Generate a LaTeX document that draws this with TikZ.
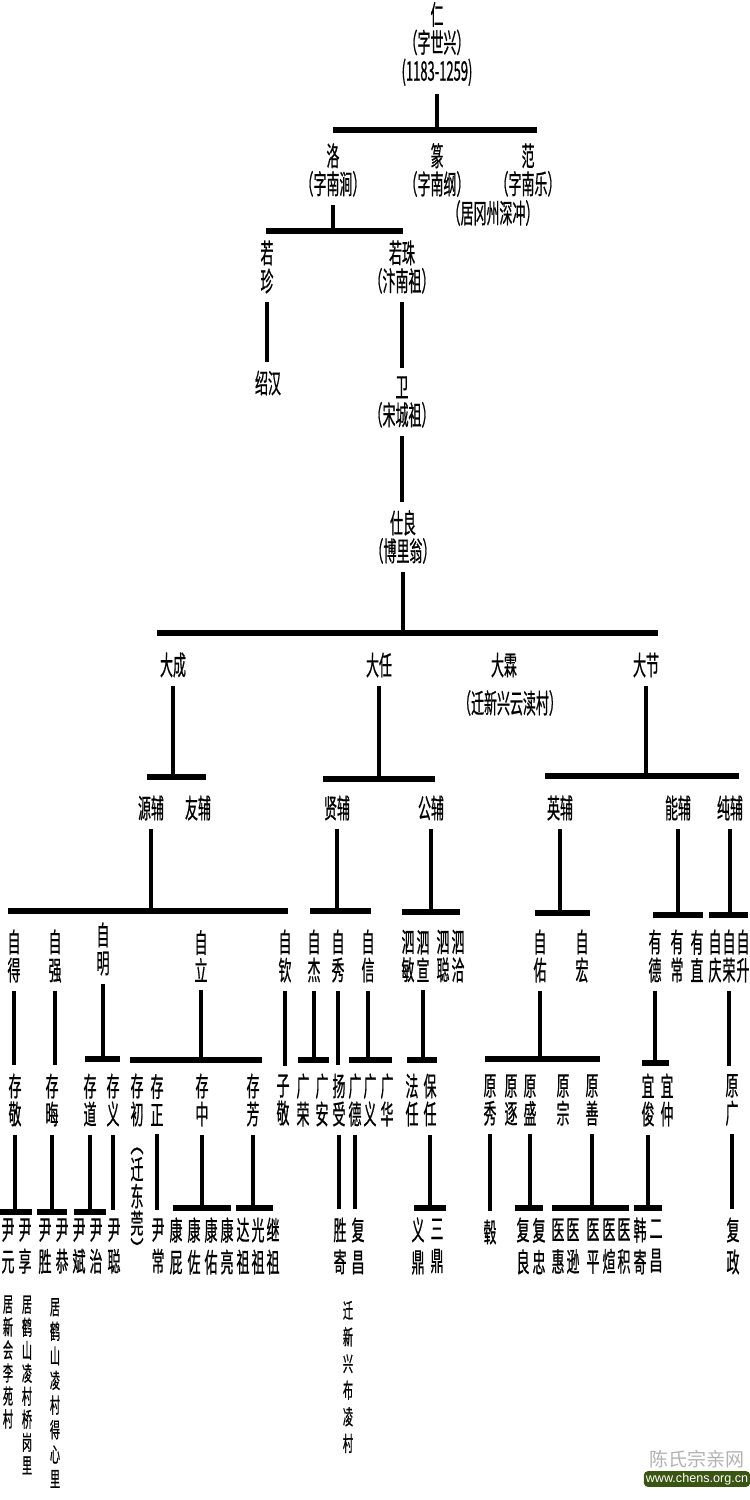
\documentclass[tikz,border=0pt]{standalone}
\usepackage{fontspec}
\newfontfamily\cjk{Noto Sans CJK SC}[FakeStretch=0.48,FakeBold=0.6]
\newfontfamily\wmfont{Noto Sans CJK SC}
\newfontfamily\urlfont{Liberation Sans}
\definecolor{wmgreen}{RGB}{58,84,18}
\tikzset{
    gname/.style={font=\cjk\fontsize{13.5}{14}\selectfont,inner sep=1pt,align=center},
    gnamelow/.style={gname,font=\cjk\fontsize{13.5}{16}\selectfont},
    resid/.style={gname,inner sep=0pt,font=\cjk\fontsize{10.5}{#1}\selectfont},
    bar/.style={line width=2.6pt},
    stem/.style={line width=1.8pt,shorten <=3pt},
}

\begin{document}
\begin{tikzpicture}[x=0.5pt,y=-0.5pt]
        \useasboundingbox (0,0) rectangle (750,1500);
        % first generations
        \node[gname] (ren) at (437,44) {仁\\（字世兴）\\(1183-1259)};
        \node[gname] (luo) at (333,170) {洛\\（字南涧）};
        \node[gname] (zhuan) at (437,170) {篆\\（字南纲）};
        \node[gname] (fan) at (528,170) {范\\（字南乐）};
        \node[gname] (fannote) at (493,213) {（居冈州深冲）};
        \node[gname] (ruozhen) at (267,267) {若\\珍};
        \node[gname] (ruozhu) at (402,267) {若珠\\（汴南祖）};
        \node[gname] (shaohan) at (268,383) {绍汉};
        \node[gname] (wei) at (402,402) {卫\\（宋城祖）};
        \node[gname] (shiliang) at (403,537) {仕良\\（博里翁）};
        % da and fu
        \node[gname] (dacheng) at (173,665) {大成};
        \node[gname] (daren) at (379,665) {大任};
        \node[gname] (dalin) at (504,665) {大霖};
        \node[gname] (dalinnote) at (510,703) {（迁新兴云渎村）};
        \node[gname] (dajie) at (646,665) {大节};
        \foreach \nm/\xx/\txt in {yuanfu/151/源辅, youfu/198/友辅, xianfu/337/贤辅, gongfu/431/公辅,
            yingfu/560/英辅, nengfu/678/能辅, chunfu/730/纯辅}
            \node[gname] (\nm) at (\xx,808) {\txt};
        % zi generation
        \foreach \nm/\xx/\txt in {zide/14/自\\得, ziqiang/55/自\\强, zili/201/自\\立, ziqin/285/自\\钦,
            zijie/314/自\\杰, zixiu/338/自\\秀, zixin/368/自\\信, simin/408/泗\\敏, sixuan/423/泗\\宣,
            sicong/443/泗\\聪, siqia/458/泗\\洽, ziyou/540/自\\佑, zihong/582/自\\宏, youde/655/有\\德,
            youchang/677/有\\常, youzhi/697/有\\直, ziqing/715/自\\庆, zirong/729/自\\荣, zisheng/743/自\\升}
            \node[gname] (\nm) at (\xx,956) {\txt};
        \node[gname] (ziming) at (103,949) {自\\明};
        % cun generation
        \foreach \nm/\xx/\txt in {cunjing/15/存\\敬, cunhui/52/存\\晦, cundao/90/存\\道, cunyi/113/存\\义,
            cunchu/137/存\\初, cunzheng/157/存\\正, cunzhong/202/存\\中, cunfang/253/存\\芳, zijing/283/子\\敬,
            guangrong/303/广\\荣, guangan/322/广\\安, yangshou/339/扬\\受, guangde/355/广\\德,
            guangyi/370/广\\义, guanghua/387/广\\华, faren/412/法\\任, baoren/430/保\\任,
            yuanxiu/490/原\\秀, yuanzhu/511/原\\逐, yuansheng/530/原\\盛, yuanzong/563/原\\宗,
            yuanshan/592/原\\善, yijun/648/宜\\俊, yizhong/667/宜\\仲, yuanguang/732/原\\广}
            \node[gname] (\nm) at (\xx,1100) {\txt};
        \node[gname,font=\cjk\fontsize{13.5}{13.5}\selectfont] (cunchunote) at (137,1204) {︵\\迁\\东\\莞\\︶};
        % yin generation
        \foreach \nm/\xx/\txt in {yinyuan/8/尹\\元, yinxiang/25/尹\\享, yinsheng/45/尹\\胜, yingong/62/尹\\恭,
            yinbin/79/尹\\斌, yinzhi/96/尹\\治, yincong/114/尹\\聪, yinchang/158/尹\\常, kangpi/176/康\\屁,
            kangzuo/194/康\\佐, kangyou/211/康\\佑, kangliang/227/康\\亮, dazu/243/达\\祖, guangzu/258/光\\祖,
            jizu/273/继\\祖, shengji/340/胜\\寄, fuchang/358/复\\昌, yiding/418/义\\鼎, sanding/437/三\\鼎,
            fuliang/523/复\\良, fuzhong/539/复\\忠, yihui/558/医\\惠, yixun/573/医\\逊, yiping/593/医\\平,
            yixuan/609/医\\煊, yiji/624/医\\积, hanji/640/韩\\寄, erchang/656/二\\昌, fuzheng/733/复\\政}
            \node[gnamelow] (\nm) at (\xx,1246) {\txt};
        \node[gname] (gu) at (490,1232) {毂};
        % where they lived
        \node[resid=11.5] (juxinhui) at (8,1362) {居\\新\\会\\李\\苑\\村};
        \node[resid=11.5] (juqiaogang) at (27,1385) {居\\鹤\\山\\凌\\村\\桥\\岗\\里};
        \node[resid=12.3] (judexin) at (55,1393) {居\\鹤\\山\\凌\\村\\得\\心\\里};
        \node[resid=13.3] (qianbuling) at (348,1377) {迁\\新\\兴\\布\\凌\\村};
        % bars
        \foreach \b/\yy/\xl/\xr in {b0/130/333/537, b1/231/266/403, b2/633/157/658, b3/777/147/206,
            b4/779/323/435, b5/776/545/739, b6/911/8/288, b7/911/310/371, b8/912/402/460, b9/913/535/590,
            b10/915/653/703, b11/915/709/748, b12/1059/85/120, b13/1060/130/262, b14/1060/298/329,
            b15/1060/349/392, b16/1060/407/437, b17/1059/485/600, b18/1063/642/669, b19/1212/0/32,
            b20/1212/37/67, b21/1212/74/106, b22/1208/173/231, b23/1208/236/273, b24/1208/414/446,
            b25/1208/515/543, b26/1208/552/629, b27/1208/634/662}{
            \coordinate (\b-l) at (\xl,\yy);
            \coordinate (\b-r) at (\xr,\yy);
            \draw[bar] (\b-l) -- (\b-r);
        }
        \foreach \p/\b in {ren/b0, luo/b1, shiliang/b2, dacheng/b3, daren/b4, dajie/b5, yuanfu/b6,
            xianfu/b7, gongfu/b8, yingfu/b9, nengfu/b10, chunfu/b11, ziming/b12, zili/b13, zijie/b14,
            zixin/b15, sixuan/b16, ziyou/b17, youde/b18, cunjing/b19, cunhui/b20, cundao/b21,
            cunzhong/b22, cunfang/b23, baoren/b24, yuansheng/b25, yuanshan/b26, yijun/b27}
            \draw[stem] (\p.south) -- (\p.south |- \b-l);
        \foreach \p/\c in {ruozhen/shaohan, ruozhu/wei, wei/shiliang, zide/cunjing, ziqiang/cunhui,
            ziqin/zijing, zixiu/yangshou, zirong/yuanguang, cunyi/yincong, cunzheng/yinchang,
            yangshou/shengji, guangde/fuchang, yuanxiu/gu, yuanguang/fuzheng}
            \draw[stem,shorten >=3pt] (\p.south) -- (\p.south |- \c.north);
        % site mark
        \node[font=\wmfont\fontsize{9.5}{10}\selectfont,text=gray!60,inner sep=0pt] (wmtitle) at (697,1459) {陈氏宗亲网};
        \node[font=\urlfont\fontsize{6.3}{7}\selectfont,text=white,fill=wmgreen,rounded corners=2pt,inner sep=1pt] (wmurl) at (697,1479) {www.chens.org.cn};
\end{tikzpicture}
\end{document}
